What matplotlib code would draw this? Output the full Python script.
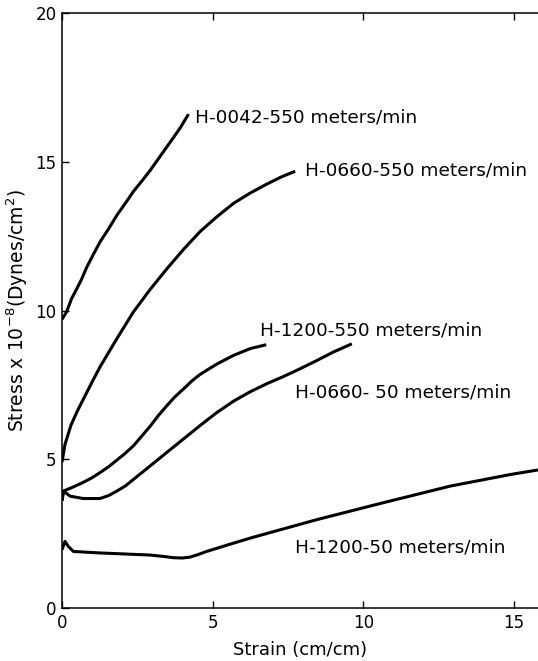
import matplotlib
matplotlib.use("Agg")
import matplotlib.pyplot as plt

# Stress-strain curves
h0042_550_x = [0.0, 0.15, 0.32, 0.5, 0.65, 0.82, 1.05, 1.26, 1.55, 1.82, 2.1, 2.37, 2.65, 2.92, 3.2, 3.48, 3.9, 4.2]
h0042_550_y = [9.7, 9.95, 10.4, 10.75, 11.05, 11.45, 11.9, 12.3, 12.75, 13.2, 13.6, 14.0, 14.35, 14.7, 15.1, 15.5, 16.1, 16.6]

h0660_550_x = [0.0, 0.1, 0.3, 0.5, 0.7, 1.0, 1.26, 1.82, 2.37, 2.92, 3.48, 4.03, 4.58, 5.14, 5.69, 6.25, 6.8, 7.3, 7.74]
h0660_550_y = [4.9, 5.5, 6.15, 6.6, 7.0, 7.6, 8.1, 9.05, 9.95, 10.7, 11.4, 12.05, 12.65, 13.15, 13.6, 13.95, 14.25, 14.5, 14.68]

h1200_550_x = [0.0, 0.05, 0.4, 0.7, 1.0, 1.26, 1.55, 1.82, 2.1, 2.37, 2.65, 2.92, 3.2, 3.48, 3.75, 4.03, 4.3, 4.58, 5.14, 5.69, 6.25, 6.78]
h1200_550_y = [3.6, 3.93, 4.08, 4.22, 4.38, 4.55, 4.75, 4.97, 5.2, 5.45, 5.78, 6.1, 6.47, 6.8, 7.1, 7.36, 7.62, 7.85, 8.2, 8.49, 8.72, 8.85]

h0660_50_x = [0.0, 0.05, 0.27, 0.7, 1.26, 1.55, 1.82, 2.1, 2.37, 2.65, 2.92, 3.48, 4.03, 4.58, 5.14, 5.69, 6.25, 6.8, 7.35, 7.9, 8.46, 9.0, 9.62]
h0660_50_y = [3.6, 3.93, 3.76, 3.68, 3.68, 3.78, 3.93, 4.1, 4.32, 4.55, 4.77, 5.23, 5.68, 6.13, 6.57, 6.95, 7.27, 7.54, 7.78, 8.04, 8.32, 8.6, 8.88]

h1200_50_x = [0.0, 0.1, 0.21, 0.38, 1.26, 2.92, 3.4, 3.7, 4.0, 4.25, 4.5, 4.8, 5.5, 6.25, 8.46, 10.67, 12.9, 14.9, 15.8]
h1200_50_y = [1.96, 2.24, 2.07, 1.9, 1.85, 1.78, 1.73, 1.69, 1.68, 1.71, 1.79, 1.9, 2.12, 2.35, 2.97, 3.54, 4.1, 4.49, 4.64]

curve_labels = ["H-0042-550 meters/min", "H-0660-550 meters/min", "H-1200-550 meters/min",
                "H-0660- 50 meters/min", "H-1200-50 meters/min"]
label_x = [4.4, 8.07, 6.58, 7.74, 7.74]
label_y = [16.5, 14.7, 9.33, 7.26, 2.03]

x_ticks = [0, 5, 10, 15]
y_ticks = [0, 5, 10, 15, 20]

fig = plt.figure(figsize=(5.38, 6.61), dpi=100)
ax = fig.add_axes([0.1152, 0.0802, 0.8848, 0.9001])

curves = [(h0042_550_x, h0042_550_y), (h0660_550_x, h0660_550_y),
          (h1200_550_x, h1200_550_y), (h0660_50_x, h0660_50_y),
          (h1200_50_x, h1200_50_y)]
for cx, cy in curves:
    ax.plot(cx, cy, color="black", lw=2.2, solid_capstyle="butt", solid_joinstyle="round")

for txt, tx, ty in zip(curve_labels, label_x, label_y):
    ax.text(tx, ty, txt, fontsize=13.3, va="center", ha="left")

ax.set_xlim(0, 15.8)
ax.set_ylim(0, 20)
ax.set_xticks(x_ticks)
ax.set_yticks(y_ticks)
ax.spines["right"].set_visible(False)
for s in ["left", "bottom", "top"]:
    ax.spines[s].set_linewidth(1.1)
ax.tick_params(direction="in", length=5, width=1, labelsize=12, top=True, pad=4)

ax.set_xlabel("Strain (cm/cm)", fontsize=13, labelpad=7)
ax.set_ylabel("Stress x 10$^{-8}$(Dynes/cm$^{2}$)", fontsize=13.5, labelpad=4)

fig.savefig("out.png", dpi=100)
